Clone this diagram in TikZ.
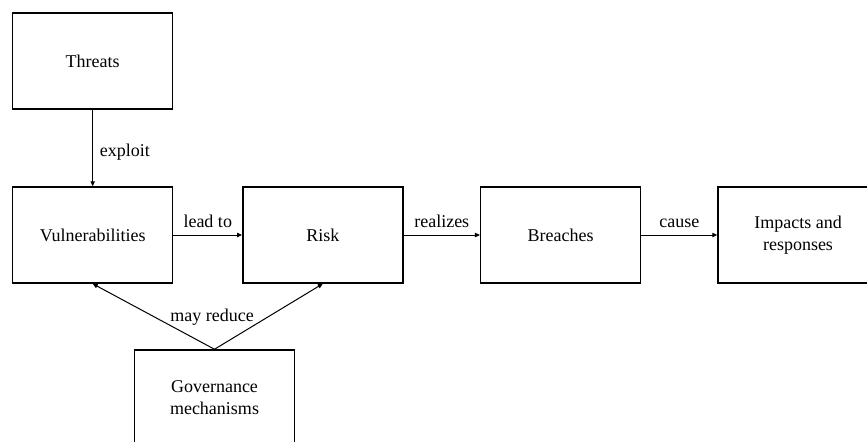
\documentclass[tikz,border=0pt]{standalone}
\usepackage{fontspec}
\setmainfont{Liberation Serif}
\usetikzlibrary{arrows.meta}

\tikzset{
	stage/.style={draw, line width=0.75pt, minimum width=80pt, minimum height=48pt, align=center, inner sep=2pt},
	lbl/.style={font=\fontsize{9}{11}\selectfont}
}

\begin{document}
\begin{tikzpicture}[x=0.5pt,y=-0.5pt,font=\fontsize{9}{11}\selectfont]
		\useasboundingbox (0,0) rectangle (867,441);
		\node[stage] (T) at (92.7,61) {Threats};
		\node[stage] (V) at (92.7,235) {Vulnerabilities};
		\node[stage] (R) at (322.8,235) {Risk};
		\node[stage] (B) at (560.7,235) {Breaches};
		\node[stage] (I) at (798,235) {Impacts and\\responses};
		\node[stage] (G) at (214.5,398) {Governance\\mechanisms};
		%
		\path[-{Triangle[length=2.5pt,width=2.2pt]},line width=0.5pt,lbl]
		(T) edge node[right,yshift=-2pt]{exploit} (V)
		(V) edge node[above]{lead to} (R)
		(R) edge node[above]{realizes} (B)
		(B) edge node[above]{cause} (I)
		(G.north) edge (V.south)
		(G.north) edge (R.south);
		%
		\node[lbl] (MR) at (212,317) {may reduce};
		\end{tikzpicture}
\end{document}
